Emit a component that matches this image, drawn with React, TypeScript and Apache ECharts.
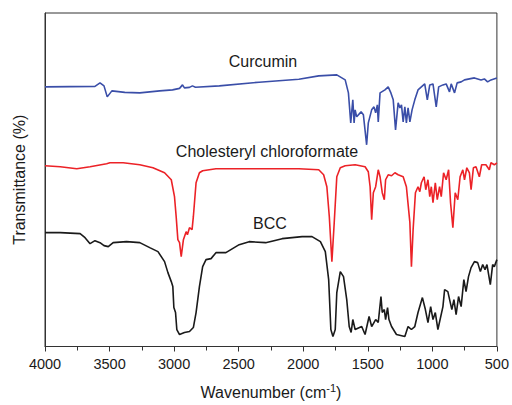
import React, { useEffect, useRef } from "react";
import * as echarts from "echarts";

// [wavenumber (cm-1), transmittance (a.u.)]
const curcumin: number[][] = [
  [4000, 260], [3613, 260.5], [3574, 264], [3543, 261], [3518, 250], [3482, 256], [3382, 254.5],
  [3266, 254], [3112, 256], [3012, 257], [2958, 258.5], [2935, 262], [2920, 259], [2881, 259.5],
  [2858, 261], [2835, 259.7], [2650, 261], [2342, 264.7], [2034, 267.7], [1880, 271], [1740, 272],
  [1675, 267], [1650, 254], [1632, 224], [1616, 247], [1606, 224], [1598, 237], [1586, 230],
  [1552, 235], [1534, 232], [1509, 202], [1496, 224], [1470, 237], [1452, 240], [1439, 234],
  [1426, 242], [1419, 225], [1405, 254], [1367, 257], [1342, 260], [1321, 254], [1303, 247],
  [1285, 217], [1265, 244], [1251, 239], [1239, 242], [1226, 225], [1213, 240], [1201, 224],
  [1188, 239], [1174, 225], [1157, 237], [1136, 247], [1111, 257], [1085, 260], [1059, 263],
  [1039, 247], [1020, 262], [995, 263], [970, 240], [951, 260], [918, 262], [893, 263],
  [867, 255], [854, 263], [828, 254], [808, 264], [777, 265], [751, 267], [713, 268],
  [674, 269], [623, 267], [597, 268], [572, 265], [546, 267], [500, 269],
];

const cholesterylChloroformate: number[][] = [
  [4000, 181], [3882, 180], [3754, 178], [3651, 180], [3523, 183], [3497, 184], [3395, 184],
  [3266, 182], [3164, 179], [3074, 174], [3022, 167], [2997, 150], [2984, 130], [2971, 107],
  [2958, 104], [2945, 90], [2928, 107], [2907, 115], [2897, 112], [2881, 119], [2861, 117],
  [2851, 130], [2830, 164], [2804, 174], [2779, 176], [2676, 178], [2496, 178], [2265, 178],
  [2034, 178], [1880, 177], [1842, 172], [1817, 160], [1798, 130], [1778, 85], [1760, 124],
  [1740, 170], [1713, 179], [1675, 181], [1598, 182], [1521, 180], [1496, 175], [1482, 160],
  [1470, 127], [1457, 154], [1439, 160], [1419, 177], [1405, 170], [1388, 154], [1372, 147],
  [1362, 167], [1342, 172], [1316, 171], [1290, 174], [1265, 172], [1226, 170], [1201, 160],
  [1174, 124], [1162, 80], [1149, 117], [1131, 154], [1111, 160], [1097, 155], [1085, 164],
  [1064, 170], [1051, 157], [1034, 167], [1020, 150], [1008, 160], [995, 144], [977, 164],
  [962, 147], [944, 160], [931, 150], [913, 174], [893, 167], [874, 177], [859, 144],
  [841, 119], [823, 154], [803, 147], [785, 170], [764, 177], [751, 167], [733, 179],
  [713, 174], [700, 157], [682, 179], [662, 180], [636, 170], [618, 182], [585, 182],
  [559, 177], [546, 184], [520, 182], [500, 184],
];

const bcc: number[][] = [
  [4000, 114], [3882, 114], [3728, 113], [3690, 109], [3651, 103], [3613, 106], [3574, 104],
  [3543, 101], [3510, 100], [3472, 104], [3369, 105], [3266, 104], [3189, 99], [3125, 95],
  [3074, 85], [3048, 74], [3022, 65], [3010, 60], [3002, 39], [2989, 34], [2979, 17],
  [2958, 12], [2920, 14], [2881, 15], [2851, 19], [2830, 34], [2804, 60], [2779, 80],
  [2753, 87], [2714, 88], [2676, 94], [2599, 94], [2496, 102], [2419, 105], [2291, 104],
  [2163, 108], [2009, 110], [1932, 110], [1867, 105], [1829, 95], [1803, 67], [1786, 17],
  [1770, 10], [1752, 17], [1740, 54], [1713, 75], [1688, 70], [1663, 47], [1644, 20],
  [1629, 14], [1616, 27], [1598, 17], [1547, 20], [1521, 12], [1490, 30], [1470, 20],
  [1439, 27], [1419, 24], [1398, 50], [1388, 34], [1372, 37], [1362, 27], [1347, 39],
  [1336, 27], [1316, 20], [1278, 12], [1213, 10], [1188, 20], [1162, 17], [1136, 20],
  [1111, 34], [1077, 49], [1054, 37], [1034, 24], [1013, 40], [995, 27], [977, 34],
  [957, 17], [918, 40], [905, 57], [880, 55], [849, 37], [833, 47], [816, 32], [797, 50],
  [777, 40], [756, 67], [739, 55], [720, 70], [700, 79], [674, 85], [649, 84], [628, 75],
  [610, 82], [592, 77], [577, 82], [551, 62], [533, 82], [520, 80], [500, 87],
];

const seriesNames = ["Curcumin", "Cholesteryl chloroformate", "BCC"];
const seriesColors = ["#3a4ea8", "#ec2227", "#1a1a1a"];
const xTickLabels = ["4000", "3500", "3000", "2500", "2000", "1500", "1000", "500"];

export default function App() {
  const ref = useRef<HTMLDivElement>(null);
  useEffect(() => {
    if (!ref.current) return;
    const chart = echarts.init(ref.current, null, { renderer: "svg" });
    const font = "Liberation Sans, Arial, sans-serif";
    const datasets = [curcumin, cholesterylChloroformate, bcc];
    chart.setOption({
      animation: false,
      backgroundColor: "#ffffff",
      grid: {
        left: 45, right: 13, top: 13, bottom: 58,
        show: true, borderColor: "#333", borderWidth: 1,
      },
      xAxis: {
        type: "value",
        inverse: true,
        min: 500,
        max: 4000,
        interval: 500,
        name: "Wavenumber (cm{sup|-1})",
        nameLocation: "middle",
        nameGap: 36,
        nameTextStyle: {
          fontFamily: font, fontSize: 16, color: "#1a1a1a",
          rich: { sup: { fontSize: 11, verticalAlign: "top", padding: [0, 0, 8, 0], fontFamily: font, color: "#1a1a1a" } },
        },
        axisLine: { show: true, lineStyle: { color: "#333", width: 1 } },
        axisTick: { show: true, inside: false, length: 5, lineStyle: { color: "#333" } },
        minorTick: { show: true, splitNumber: 2, length: 4, lineStyle: { color: "#333" } },
        splitLine: { show: false },
        axisLabel: {
          margin: 10, fontFamily: font, fontSize: 14.5, color: "#1a1a1a",
          formatter: (v: number) => (xTickLabels.includes(String(v)) ? String(v) : ""),
        },
      },
      yAxis: {
        type: "value",
        min: 0,
        max: 334,
        name: "Transmittance (%)",
        nameLocation: "middle",
        nameGap: 18,
        nameTextStyle: { fontFamily: font, fontSize: 16, color: "#1a1a1a" },
        axisLine: { show: true, lineStyle: { color: "#333", width: 1 } },
        axisTick: { show: false },
        axisLabel: { show: false },
        splitLine: { show: false },
      },
      series: datasets.map((d, i) => ({
        name: seriesNames[i],
        type: "line",
        data: d,
        showSymbol: false,
        symbol: "none",
        lineStyle: { color: seriesColors[i], width: 1.6 },
        itemStyle: { color: seriesColors[i] },
      })),
      graphic: [
        { type: "text", x: 263, y: 61, style: { text: seriesNames[0], fontFamily: font, fontSize: 16, fill: "#1a1a1a", align: "center", verticalAlign: "middle" } },
        { type: "text", x: 267, y: 151, style: { text: seriesNames[1], fontFamily: font, fontSize: 16, fill: "#1a1a1a", align: "center", verticalAlign: "middle" } },
        { type: "text", x: 270, y: 223, style: { text: seriesNames[2], fontFamily: font, fontSize: 16, fill: "#1a1a1a", align: "center", verticalAlign: "middle" } },
      ],
    });
    return () => chart.dispose();
  }, []);
  return <div ref={ref} style={{ width: 512, height: 405, position: "absolute", left: 0, top: 0 }} />;
}
